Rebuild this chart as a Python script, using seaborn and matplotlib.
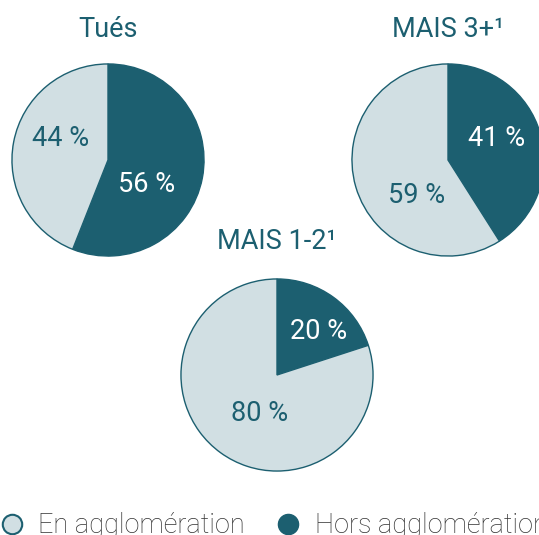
import numpy as np
import matplotlib
matplotlib.use("Agg")
import matplotlib.pyplot as plt
from matplotlib.lines import Line2D
import seaborn as sns

# data
titles = ["Tués", "MAIS 3+¹", "MAIS 1-2¹"]
hors = [56, 41, 20]
en = [44, 59, 80]
legend_labels = ["En agglomération", "Hors agglomération"]

dark = "#1c5f70"
light = "#d1dfe3"

sns.set_theme(style="white")
plt.rcParams["font.family"] = ["Roboto", "DejaVu Sans"]

W, H = 539, 535
fig = plt.figure(figsize=(W / 100, H / 100), dpi=100)

# layout: pie centres in pixels (from top-left), radius, title pad
centres = [(108, 160), (448, 160), (277, 375)]
pads = [19, 19, 21]
R = 97
# where the designer put the percentage labels (fraction of radius)
label_xy = [[(0.40, -0.25), (-0.49, 0.22)],
            [(0.51, 0.22), (-0.33, -0.37)],
            [(0.43, 0.45), (-0.18, -0.40)]]


def add_axes(cx, cy):
    return fig.add_axes([(cx - R) / W, (H - cy - R) / H, 2 * R / W, 2 * R / H])


for i, (title, h, e, (cx, cy)) in enumerate(zip(titles, hors, en, centres)):
    ax = add_axes(cx, cy)
    wedges, texts, autotexts = ax.pie(
        [h, e], colors=[dark, light], startangle=90, counterclock=False,
        autopct=lambda p: f"{p:.0f} %", pctdistance=0.55,
        wedgeprops=dict(edgecolor=dark, linewidth=1),
        textprops=dict(fontsize=19.5),
    )
    autotexts[0].set_color("white")
    autotexts[1].set_color(dark)
    for t, xy in zip(autotexts, label_xy[i]):
        t.set_position(xy)
    ax.set_xlim(-1.01, 1.01)
    ax.set_ylim(-1.01, 1.01)
    ax.set_aspect("equal")
    ax.set_title(title, color=dark, fontsize=19.5, pad=pads[i])

handles = [
    Line2D([], [], marker="o", linestyle="", markersize=14,
           markerfacecolor=light, markeredgecolor=dark, markeredgewidth=1.5),
    Line2D([], [], marker="o", linestyle="", markersize=14.5,
           markerfacecolor=dark, markeredgecolor=dark),
]
leg = fig.legend(handles, legend_labels, ncol=2, loc="lower left",
                 bbox_to_anchor=(1.2 / W, -0.0075), frameon=False,
                 borderpad=0, borderaxespad=0,
                 fontsize=19.5, handletextpad=0.57, columnspacing=1.2,
                 handlelength=0.8)
for t in leg.get_texts():
    t.set_color("#333333")
    t.set_fontweight("light")

fig.savefig("out.png", dpi=100)
